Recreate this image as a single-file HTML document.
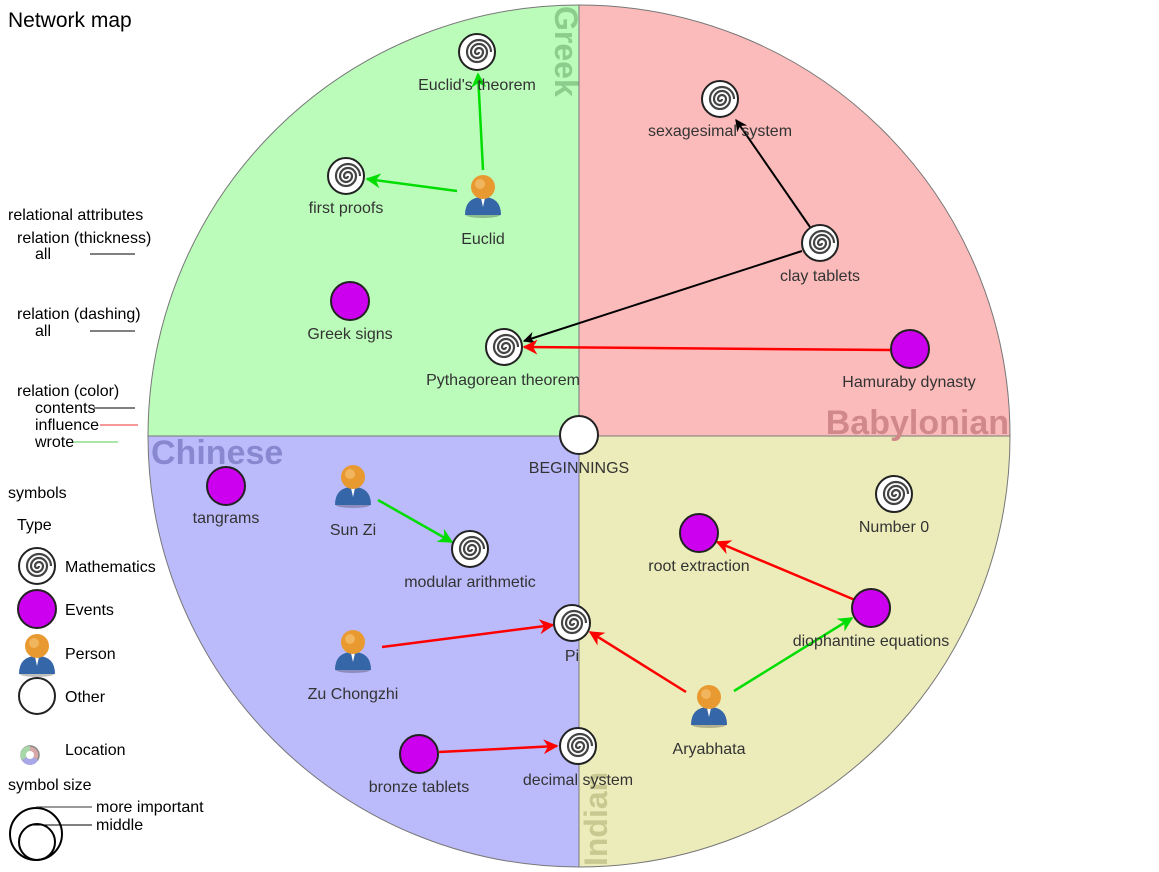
<!DOCTYPE html>
<html><head><meta charset="utf-8"><style>
html,body{margin:0;padding:0;background:#fff}
svg{display:block;font-family:"Liberation Sans",Arial,sans-serif}
.l{font-size:16px;fill:#333;text-anchor:middle}
.g{font-size:16px;fill:#000}
</style></head><body>
<svg width="1159" height="872" viewBox="0 0 1159 872" xmlns="http://www.w3.org/2000/svg">
<defs>
<g id="m"><circle r="18" fill="#fff" stroke="#222" stroke-width="2"/>
<path d="M0,0 m2,0 a2,2 0 1 1 -4,0 a4,4 0 0 1 8,0 a6,6 0 0 1 -12,0 a8,8 0 0 1 16,0 a10,10 0 0 1 -20,0 a12,12 0 0 1 24,0" fill="none" stroke="#444" stroke-width="2.2"/></g>
<g id="e"><circle r="19" fill="#cc00ee" stroke="#222" stroke-width="2"/></g>
<g id="p"><ellipse cx="0" cy="20" rx="17" ry="3" fill="#000" opacity=".25"/><path d="M-18,20 Q-18,2 0,2 Q18,2 18,20 Z" fill="#3566a8"/><path d="M-2,3 L0,12 L2,3 Z" fill="#fff"/><circle cx="0" cy="-8" r="12" fill="#e89a30"/><circle cx="-3" cy="-11" r="5" fill="#f5c070" opacity=".7"/></g>
<marker id="ak" viewBox="0 0 10 10" refX="9" refY="5" markerWidth="6" markerHeight="6" orient="auto"><path d="M0,0 L10,5 L0,10 L3,5 Z" fill="#000"/></marker>
<marker id="ar" viewBox="0 0 10 10" refX="9" refY="5" markerWidth="6" markerHeight="6" orient="auto"><path d="M0,0 L10,5 L0,10 L3,5 Z" fill="#f00"/></marker>
<marker id="ag" viewBox="0 0 10 10" refX="9" refY="5" markerWidth="6" markerHeight="6" orient="auto"><path d="M0,0 L10,5 L0,10 L3,5 Z" fill="#0d0"/></marker>
</defs>
<path d="M579,436 L579,5 A431,431 0 0 0 148,436 Z" fill="#bbfcbb"/>
<path d="M579,436 L579,5 A431,431 0 0 1 1010,436 Z" fill="#fcbbbb"/>
<path d="M579,436 L148,436 A431,431 0 0 0 579,867 Z" fill="#bbbbfc"/>
<path d="M579,436 L1010,436 A431,431 0 0 1 579,867 Z" fill="#ececbb"/>
<circle cx="579" cy="436" r="431" fill="none" stroke="#777" stroke-width="1"/>
<line x1="579" y1="5" x2="579" y2="867" stroke="#777"/>
<line x1="148" y1="436" x2="1010" y2="436" stroke="#777"/>
<text x="555" y="6" transform="rotate(90 555 6)" font-size="32" font-weight="bold" fill="#8ccc8c">Greek</text>
<text x="1009" y="434" text-anchor="end" font-size="34" font-weight="bold" fill="#d08888">Babylonian</text>
<text x="151" y="464" font-size="34" font-weight="bold" fill="#8888d0">Chinese</text>
<text x="607" y="866" transform="rotate(-90 607 866)" font-size="32" font-weight="bold" fill="#c8c890">Indian</text>
<g stroke-width="2.5" fill="none">
<line x1="483" y1="170" x2="478" y2="74" stroke="#0d0" marker-end="url(#ag)"/>
<line x1="457" y1="191" x2="367" y2="179" stroke="#0d0" marker-end="url(#ag)"/>
<line x1="810" y1="227" x2="736" y2="120" stroke="#000" stroke-width="2" marker-end="url(#ak)"/>
<line x1="802" y1="251" x2="524" y2="341" stroke="#000" stroke-width="2" marker-end="url(#ak)"/>
<line x1="890" y1="350" x2="524" y2="347" stroke="#f00" marker-end="url(#ar)"/>
<line x1="378" y1="500" x2="452" y2="542" stroke="#0d0" marker-end="url(#ag)"/>
<line x1="382" y1="647" x2="553" y2="625" stroke="#f00" marker-end="url(#ar)"/>
<line x1="686" y1="692" x2="590" y2="632" stroke="#f00" marker-end="url(#ar)"/>
<line x1="734" y1="691" x2="852" y2="618" stroke="#0d0" marker-end="url(#ag)"/>
<line x1="855" y1="600" x2="717" y2="542" stroke="#f00" marker-end="url(#ar)"/>
<line x1="439" y1="752" x2="557" y2="746" stroke="#f00" marker-end="url(#ar)"/>
</g>
<use href="#m" x="477" y="52"/><text class="l" x="477" y="90">Euclid's theorem</text>
<use href="#m" x="346" y="176"/><text class="l" x="346" y="213">first proofs</text>
<use href="#p" x="483" y="195"/><text class="l" x="483" y="244">Euclid</text>
<use href="#e" x="350" y="301"/><text class="l" x="350" y="339">Greek signs</text>
<use href="#m" x="504" y="347"/><text class="l" x="503" y="385">Pythagorean theorem</text>
<use href="#m" x="720" y="99"/><text class="l" x="720" y="136">sexagesimal system</text>
<use href="#m" x="820" y="243"/><text class="l" x="820" y="281">clay tablets</text>
<use href="#e" x="910" y="349"/><text class="l" x="909" y="387">Hamuraby dynasty</text>
<circle cx="579" cy="435" r="19" fill="#fff" stroke="#222" stroke-width="2"/><text class="l" x="579" y="473">BEGINNINGS</text>
<use href="#e" x="226" y="486"/><text class="l" x="226" y="523">tangrams</text>
<use href="#p" x="353" y="485"/><text class="l" x="353" y="535">Sun Zi</text>
<use href="#m" x="470" y="549"/><text class="l" x="470" y="587">modular arithmetic</text>
<use href="#p" x="353" y="650"/><text class="l" x="353" y="699">Zu Chongzhi</text>
<use href="#m" x="572" y="623"/><text class="l" x="572" y="661">Pi</text>
<use href="#e" x="419" y="754"/><text class="l" x="419" y="792">bronze tablets</text>
<use href="#m" x="578" y="746"/><text class="l" x="578" y="785">decimal system</text>
<use href="#m" x="894" y="494"/><text class="l" x="894" y="532">Number 0</text>
<use href="#e" x="699" y="533"/><text class="l" x="699" y="571">root extraction</text>
<use href="#e" x="871" y="608"/><text class="l" x="871" y="646">diophantine equations</text>
<use href="#p" x="709" y="705"/><text class="l" x="709" y="754">Aryabhata</text>
<text x="8" y="27" font-size="21" fill="#000">Network map</text>
<text class="g" x="8" y="220">relational attributes</text>
<text class="g" x="17" y="243">relation (thickness)</text>
<text class="g" x="35" y="259">all</text><line x1="90" y1="254" x2="135" y2="254" stroke="#000"/>
<text class="g" x="17" y="319">relation (dashing)</text>
<text class="g" x="35" y="336">all</text><line x1="90" y1="331" x2="135" y2="331" stroke="#000"/>
<text class="g" x="17" y="396">relation (color)</text>
<text class="g" x="35" y="413">contents</text><line x1="94" y1="408" x2="135" y2="408" stroke="#000"/>
<text class="g" x="35" y="430">influence</text><line x1="100" y1="425" x2="138" y2="425" stroke="#e33"/>
<text class="g" x="35" y="447">wrote</text><line x1="73" y1="442" x2="118" y2="442" stroke="#5c5"/>
<text class="g" x="8" y="498">symbols</text>
<text class="g" x="17" y="530">Type</text>
<use href="#m" x="37" y="566"/><text class="g" x="65" y="572">Mathematics</text>
<use href="#e" x="37" y="609"/><text class="g" x="65" y="615">Events</text>
<use href="#p" x="37" y="654"/><text class="g" x="65" y="659">Person</text>
<circle cx="37" cy="696" r="18" fill="#fff" stroke="#222" stroke-width="2"/><text class="g" x="65" y="702">Other</text>
<circle cx="30" cy="755" r="9" fill="#d8a8a8" stroke="#888" stroke-width="1.5"/><path d="M30,755 L30,746 A9,9 0 0 0 22,760 Z" fill="#a8d8a8"/><path d="M30,755 L22,760 A9,9 0 0 0 38,760 Z" fill="#a8a8e8"/><circle cx="30" cy="755" r="4" fill="#fff"/><text class="g" x="65" y="755">Location</text>
<text class="g" x="8" y="790">symbol size</text>
<circle cx="36" cy="834" r="26" fill="none" stroke="#000" stroke-width="2"/>
<circle cx="37" cy="842" r="18" fill="none" stroke="#000" stroke-width="2"/>
<line x1="36" y1="807" x2="92" y2="807" stroke="#333"/><line x1="30" y1="825" x2="92" y2="825" stroke="#000"/>
<text class="g" x="96" y="812">more important</text>
<text class="g" x="96" y="830">middle</text>
</svg>
</body></html>
